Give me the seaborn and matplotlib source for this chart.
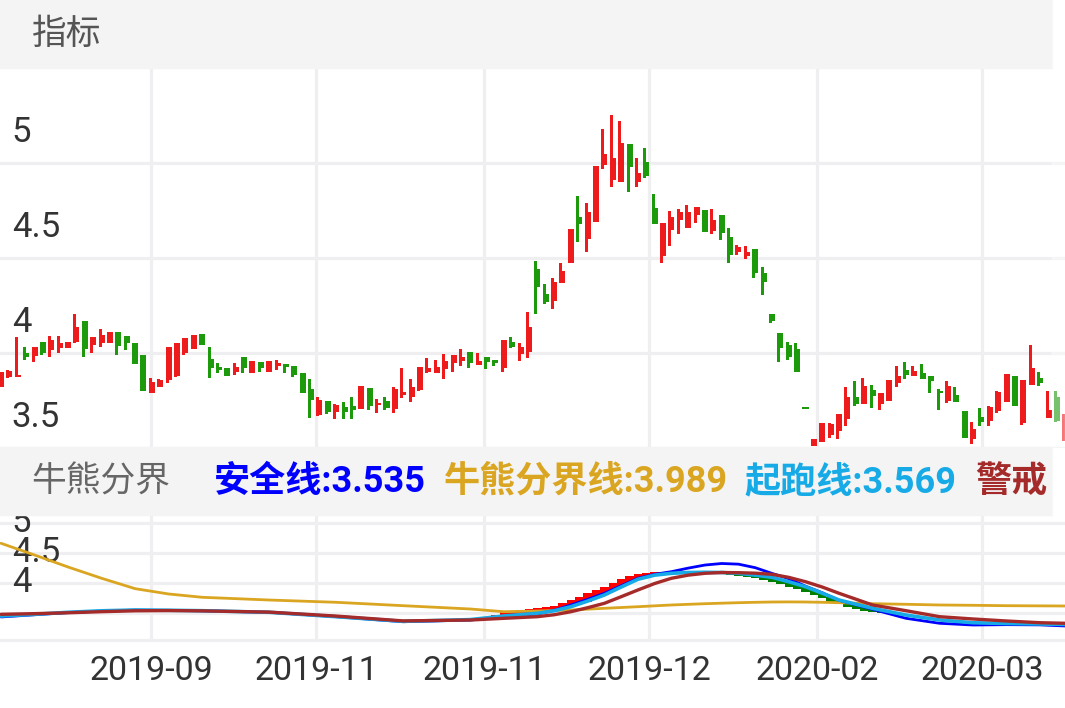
import numpy as np
import pandas as pd
import matplotlib
matplotlib.use('Agg')
import matplotlib.pyplot as plt
from matplotlib.patches import Rectangle
import seaborn as sns

# K线数据（按交易日顺序）
opens = [3.823, 3.872, 3.872, 4.002, 3.984, 4.060, 4.016, 4.025, 4.025, 4.060,
         4.168, 4.042, 4.051, 4.054, 4.109, 4.091, 4.051, 3.989, 3.791, 3.823,
         3.858, 3.879, 3.998, 4.023, 4.100, 3.967, 3.928, 3.919, 3.902, 3.981,
         3.893, 3.954, 3.902, 3.930, 3.942, 3.932, 3.893, 3.809, 3.674, 3.747,
         3.691, 3.717, 3.720, 3.704, 3.818, 3.725, 3.747, 3.704, 3.780, 3.770,
         3.805, 3.900, 3.893, 3.914, 3.946, 3.960, 4.007, 3.935, 3.977, 3.963,
         3.919, 4.060, 3.995, 4.007, 4.442, 4.311, 4.275, 4.367, 4.475, 4.714,
         4.598, 4.688, 4.990, 4.911, 4.902, 5.098, 4.900, 5.004, 4.765, 4.511,
         4.647, 4.700, 4.656, 4.726, 4.754, 4.640, 4.726, 4.612, 4.530, 4.511,
         4.546, 4.419, 4.204, 4.104, 4.040, 4.019, 3.716, 3.512, 3.530, 3.570,
         3.591, 3.653, 3.767, 3.732, 3.805, 3.732, 3.749, 3.840, 3.911, 3.881,
         3.896, 3.879, 3.800, 3.749, 3.779, 3.696, 3.550, 3.661, 3.644, 3.695,
         3.744, 3.879, 3.630, 3.832, 3.867, 3.660, 3.770, 3.539]
highs = [3.902, 3.910, 4.086, 4.030, 4.030, 4.060, 4.091, 4.091, 4.060, 4.205,
         4.168, 4.086, 4.125, 4.112, 4.109, 4.091, 4.051, 3.989, 3.870, 3.861,
         4.033, 4.054, 4.081, 4.093, 4.100, 4.033, 3.949, 3.919, 3.949, 3.981,
         3.960, 3.954, 3.960, 3.963, 3.942, 3.932, 3.893, 3.862, 3.770, 3.747,
         3.732, 3.740, 3.770, 3.828, 3.818, 3.760, 3.770, 3.819, 3.919, 3.861,
         3.928, 3.972, 3.963, 3.993, 3.989, 4.021, 4.007, 4.002, 3.977, 3.963,
         4.068, 4.082, 4.051, 4.214, 4.484, 4.363, 4.393, 4.472, 4.653, 4.826,
         4.788, 4.986, 5.179, 5.253, 5.219, 5.098, 5.028, 5.077, 4.835, 4.686,
         4.747, 4.756, 4.777, 4.767, 4.754, 4.758, 4.726, 4.656, 4.568, 4.565,
         4.546, 4.454, 4.204, 4.104, 4.060, 4.054, 3.718, 3.546, 3.630, 3.630,
         3.677, 3.819, 3.853, 3.870, 3.832, 3.788, 3.858, 3.932, 3.951, 3.932,
         3.942, 3.879, 3.809, 3.853, 3.819, 3.696, 3.639, 3.709, 3.721, 3.800,
         3.889, 3.879, 3.858, 4.042, 3.902, 3.800, 3.800, 3.679]
lows = [3.823, 3.870, 3.872, 3.963, 3.951, 3.989, 3.981, 4.002, 4.025, 4.051,
        3.981, 4.002, 4.033, 4.054, 3.989, 4.016, 3.942, 3.800, 3.791, 3.823,
        3.840, 3.872, 3.989, 4.023, 4.042, 3.870, 3.893, 3.881, 3.884, 3.893,
        3.893, 3.902, 3.902, 3.911, 3.893, 3.875, 3.791, 3.659, 3.668, 3.679,
        3.651, 3.651, 3.651, 3.704, 3.700, 3.682, 3.700, 3.682, 3.761, 3.740,
        3.800, 3.893, 3.893, 3.861, 3.902, 3.932, 3.923, 3.935, 3.914, 3.932,
        3.902, 4.025, 3.960, 3.972, 4.204, 4.256, 4.232, 4.367, 4.475, 4.586,
        4.533, 4.688, 4.968, 4.875, 4.902, 4.846, 4.875, 4.919, 4.679, 4.475,
        4.565, 4.626, 4.656, 4.686, 4.639, 4.625, 4.595, 4.475, 4.516, 4.495,
        4.393, 4.305, 4.156, 3.951, 3.963, 3.902, 3.704, 3.512, 3.530, 3.555,
        3.547, 3.618, 3.721, 3.732, 3.709, 3.700, 3.749, 3.819, 3.861, 3.881,
        3.863, 3.791, 3.700, 3.739, 3.740, 3.551, 3.519, 3.618, 3.618, 3.682,
        3.744, 3.723, 3.620, 3.832, 3.828, 3.656, 3.639, 3.539]
closes = [3.902, 3.907, 3.885, 3.981, 4.030, 3.998, 4.068, 4.054, 4.060, 4.139,
          4.019, 4.086, 4.095, 4.112, 4.037, 4.051, 3.942, 3.800, 3.849, 3.858,
          4.033, 4.051, 4.081, 4.093, 4.042, 3.919, 3.911, 3.881, 3.928, 3.919,
          3.960, 3.920, 3.960, 3.950, 3.925, 3.885, 3.791, 3.753, 3.753, 3.691,
          3.726, 3.691, 3.700, 3.828, 3.721, 3.739, 3.712, 3.809, 3.793, 3.819,
          3.928, 3.920, 3.928, 3.958, 3.989, 3.980, 3.946, 3.958, 3.954, 3.946,
          4.068, 4.030, 4.030, 4.139, 4.346, 4.267, 4.372, 4.432, 4.653, 4.679,
          4.744, 4.986, 5.050, 5.025, 5.104, 4.981, 4.950, 4.932, 4.679, 4.682,
          4.714, 4.744, 4.744, 4.767, 4.639, 4.700, 4.630, 4.516, 4.560, 4.533,
          4.420, 4.375, 4.170, 4.025, 3.980, 3.902, 3.706, 3.546, 3.630, 3.626,
          3.677, 3.767, 3.732, 3.826, 3.774, 3.788, 3.858, 3.880, 3.884, 3.907,
          3.863, 3.854, 3.788, 3.826, 3.740, 3.551, 3.600, 3.635, 3.718, 3.796,
          3.889, 3.723, 3.858, 3.919, 3.840, 3.700, 3.644, 3.679]

month_labels = ['2019-09', '2019-11', '2019-11', '2019-12', '2020-02', '2020-03']
price_ticks = [3.5, 4, 4.5, 5]
price_labels = ['3.5', '4', '4.5', '5']
sub_ticks = [4, 4.5, 5, 5.5]
sub_labels = ['4', '4.5', '5']

# 牛熊分界指标（按 K 线序号取点）
line_idx = [0, 4, 8, 12, 16, 20, 24, 32, 40, 48, 56, 60, 64, 66, 68, 70, 72, 74, 76,
            78, 80, 82, 84, 86, 88, 90, 92, 94, 96, 98, 100, 104, 108, 112, 116,
            120, 124, 127]
safe_line = [3.740, 3.790, 3.840, 3.875, 3.895, 3.890, 3.880, 3.846, 3.746, 3.632,
             3.671, 3.746, 3.807, 3.890, 4.012, 4.140, 4.278, 4.450, 4.619, 4.710,
             4.769, 4.850, 4.920, 4.955, 4.940, 4.860, 4.730, 4.610, 4.440, 4.290,
             4.120, 3.914, 3.709, 3.596, 3.557, 3.565, 3.560, 3.535]
bull_bear_line = [5.414, 5.148, 4.875, 4.619, 4.383, 4.262, 4.187, 4.125, 4.073, 3.996,
                  3.921, 3.859, 3.875, 3.886, 3.898, 3.917, 3.937, 3.955, 3.973, 3.993,
                  4.012, 4.027, 4.041, 4.053, 4.064, 4.073, 4.080, 4.082, 4.080, 4.073,
                  4.064, 4.041, 4.028, 4.012, 4.005, 3.996, 3.992, 3.989]
start_line = [3.760, 3.800, 3.846, 3.880, 3.898, 3.892, 3.882, 3.846, 3.746, 3.640,
              3.680, 3.762, 3.823, 3.880, 3.973, 4.100, 4.239, 4.420, 4.596, 4.690,
              4.732, 4.750, 4.755, 4.750, 4.732, 4.690, 4.641, 4.540, 4.428, 4.280,
              4.125, 3.937, 3.784, 3.671, 3.609, 3.590, 3.580, 3.569]
warn_line = [3.800, 3.815, 3.835, 3.860, 3.880, 3.885, 3.878, 3.850, 3.760, 3.650,
             3.670, 3.709, 3.746, 3.790, 3.859, 3.950, 4.050, 4.200, 4.353, 4.500,
             4.619, 4.690, 4.732, 4.750, 4.746, 4.735, 4.709, 4.640, 4.541, 4.420,
             4.278, 4.012, 3.882, 3.746, 3.694, 3.648, 3.609, 3.596]

# 柱线（起跑线与快线之间）
stick_start = 58
stick_fast = [3.74, 3.78, 3.85, 3.87, 3.89, 3.91, 3.935, 3.96, 4.00, 4.06,
              4.12, 4.20, 4.28, 4.36, 4.43, 4.52, 4.60, 4.67, 4.72, 4.75,
              4.765, 4.77, 4.77, 4.765, 4.76, 4.755, 4.75, 4.74, 4.725, 4.70,
              4.68, 4.65, 4.62, 4.58, 4.54, 4.49, 4.43, 4.37, 4.30, 4.24,
              4.17, 4.09, 4.03, 3.97, 3.92, 3.88, 3.85, 3.82, 3.80, 3.78,
              3.76, 3.745, 3.72, 3.70, 3.68, 3.665, 3.645, 3.625, 3.605, 3.60]
stick_base = [3.72, 3.74, 3.76, 3.775, 3.79, 3.805, 3.823, 3.85, 3.88, 3.92,
              3.97, 4.03, 4.09, 4.16, 4.24, 4.33, 4.42, 4.51, 4.60, 4.65,
              4.69, 4.715, 4.732, 4.74, 4.75, 4.755, 4.755, 4.75, 4.745, 4.74,
              4.732, 4.71, 4.69, 4.665, 4.64, 4.59, 4.54, 4.49, 4.43, 4.355,
              4.28, 4.20, 4.125, 4.08, 4.03, 3.985, 3.94, 3.90, 3.86, 3.82,
              3.785, 3.755, 3.725, 3.695, 3.67, 3.655, 3.64, 3.625, 3.61, 3.60]

legend_items = [('安全线:3.535', '#0000FF', 214),
                ('牛熊分界线:3.989', '#DAA520', 444),
                ('起跑线:3.569', '#16AAE6', 744),
                ('警戒', '#A52A2A', 975)]

sns.set_theme(style='white')
plt.rcParams['font.family'] = ['Roboto', 'Noto Sans CJK SC', 'DejaVu Sans']

W, H = 1065, 708
RED, GREEN = '#ED1B1B', '#1C9A0B'
GRID = '#EFEFF1'
BAND = '#F4F4F4'
step = 8.38          # 每根 K 线的像素宽度
x_lo, x_hi = 2 / step, (W + 2) / step
month_pos = [18.3, 37.95, 58.0, 77.7, 97.7, 117.4]


def box(x0, y0, x1, y1):
    return [x0 / W, 1 - y1 / H, (x1 - x0) / W, (y1 - y0) / H]


fig = plt.figure(figsize=(W / 100, H / 100), dpi=100)
fig.patch.set_facecolor('white')

# ---- 主图 K 线 ----
ax = fig.add_axes(box(0, 68, W, 448))
df = pd.DataFrame({'open': opens, 'high': highs, 'low': lows, 'close': closes})
df['x'] = np.arange(len(df))
df['color'] = np.where(df['close'] >= df['open'], RED, GREEN)
body_lo = df[['open', 'close']].min(axis=1)
body_h = (df['close'] - df['open']).abs().clip(lower=0.012)
ax.bar(df['x'], df['high'] - df['low'], bottom=df['low'], width=0.36,
       align='edge', color=df['color'], linewidth=0, zorder=3)
ax.bar(df['x'], body_h, bottom=body_lo, width=0.72,
       align='edge', color=df['color'], linewidth=0, zorder=3)
ax.set_xlim(x_lo, x_hi)
ax.set_ylim(3.5, 5.5)
ax.set_xticks(month_pos)
ax.set_yticks(price_ticks)
ax.grid(True, color=GRID, lw=2.3)
ax.tick_params(length=0, labelbottom=False, labelleft=False)
for s in ax.spines.values():
    s.set_visible(False)
for v, lbl in zip(price_ticks, price_labels):
    ax.annotate(lbl, xy=(0.011, v), xycoords=('axes fraction', 'data'),
                xytext=(0, 22.3), textcoords='offset points',
                ha='left', va='center', fontsize=25, color='#333333', zorder=4)

# ---- 副图 牛熊分界 ----
axb = fig.add_axes(box(0, 515, W, 640))
axb.set_xlim(x_lo, x_hi)
axb.set_ylim(4 - 27 / 60, 4 + 98 / 60)
axb.set_xticks(month_pos)
axb.set_xticklabels(month_labels, fontsize=24.5, color='#333333')
axb.set_yticks(sub_ticks)
axb.grid(True, color=GRID, lw=2.3)
axb.tick_params(length=0, pad=10.8, labelleft=False)
for k, s in axb.spines.items():
    s.set_visible(k == 'bottom')
axb.spines['bottom'].set_color(GRID)
axb.spines['bottom'].set_linewidth(2.3)
for v, lbl in zip(sub_ticks, sub_labels):
    t = axb.annotate(lbl, xy=(0.011, v), xycoords=('axes fraction', 'data'),
                     xytext=(0, 22.3), textcoords='offset points',
                     ha='left', va='center', fontsize=25, color='#333333', zorder=1)
    t.set_clip_on(True)

axl = axb.twinx()
axl.set_ylim(3.989 - 34 / 44, 3.989 + 91 / 44)
axl.set_xlim(x_lo, x_hi)
axl.axis('off')

sx = np.arange(len(stick_fast)) + stick_start + 0.36
fast = np.array(stick_fast)
base = np.array(stick_base)
axl.bar(sx, np.abs(fast - base), bottom=np.minimum(fast, base), width=1.0,
        color=np.where(fast >= base, '#FF0000', '#008000'), linewidth=0, zorder=1)

cx = np.array(line_idx) + 0.36
sns.lineplot(x=cx, y=bull_bear_line, ax=axl, color='#DAA520', lw=2.0, estimator=None, zorder=2)
sns.lineplot(x=cx, y=safe_line, ax=axl, color='#0000FF', lw=2.0, estimator=None, zorder=3)
sns.lineplot(x=cx, y=start_line, ax=axl, color='#16AAE6', lw=2.6, estimator=None, zorder=4)
sns.lineplot(x=cx, y=warn_line, ax=axl, color='#A52A2A', lw=2.4, estimator=None, zorder=5)

# ---- 标题栏 ----
for y0, y1 in [(0, 68), (447, 515)]:
    fig.patches.append(Rectangle((0, 1 - y1 / H), 1052 / W, (y1 - y0) / H,
                                 transform=fig.transFigure, color=BAND, zorder=1))
fig.text(32 / W, 1 - 34 / H, '指标', fontsize=25, color='#555555', va='center', ha='left')
fig.text(31 / W, 1 - 482 / H, '牛熊分界', fontsize=25, color='#666666', va='center', ha='left')
for txt, col, x0 in legend_items:
    fig.text(x0 / W, 1 - 482 / H, txt, fontsize=26, color=col, weight='bold',
             va='center', ha='left')

# 右侧边缘淡化
fig.patches.append(Rectangle((1052 / W, 1 - 515 / H), 13 / W, 515 / H,
                             transform=fig.transFigure, color='white', alpha=0.4, zorder=6))

fig.savefig('out.png', dpi=100)
